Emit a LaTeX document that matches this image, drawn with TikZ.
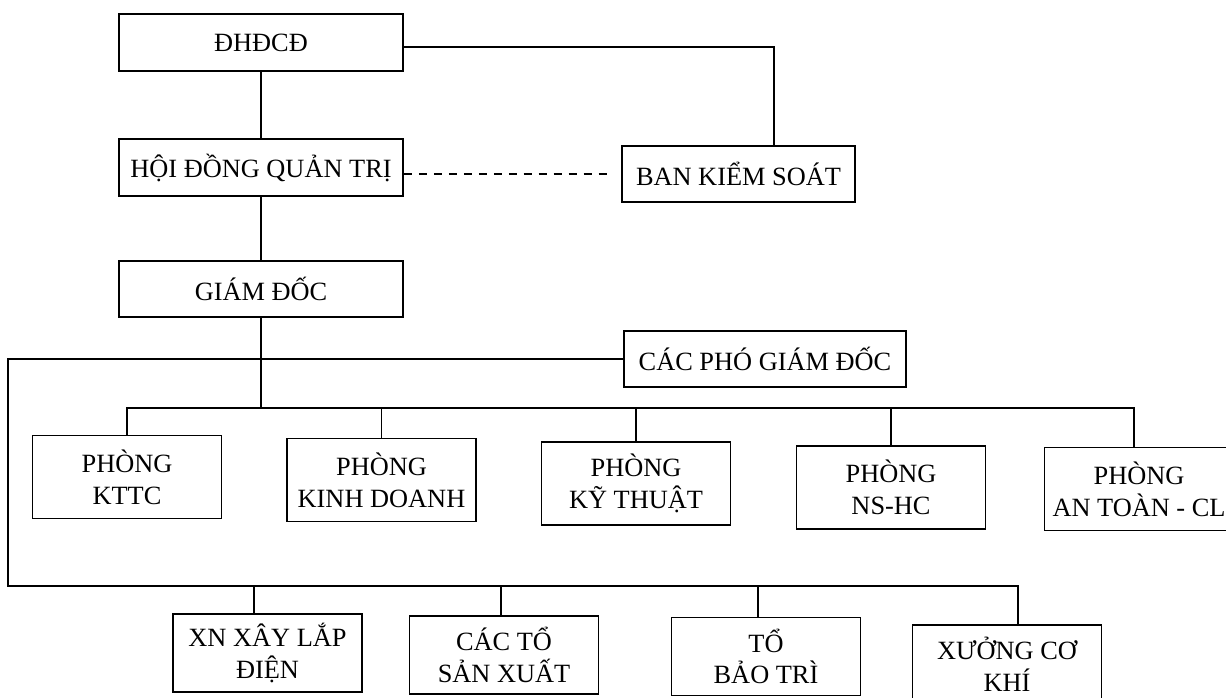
\documentclass[tikz,border=0pt]{standalone}
\usepackage{fontspec}
\setmainfont{Liberation Serif}
\usetikzlibrary{positioning, calc}
\tikzset{
  base/.style={draw, align=center, inner sep=0pt, line width=0.9pt,
               font=\fontsize{15}{18}\selectfont},
  top/.style={base, minimum width=5.68cm, minimum height=1.13cm},
  side/.style={base, minimum width=4.66cm, minimum height=1.12cm},
  dept/.style={base, minimum width=3.78cm, minimum height=1.66cm},
  unit/.style={base, minimum width=3.78cm, minimum height=1.56cm},
  link/.style={line width=0.9pt},
}

\begin{document}
\begin{tikzpicture}[x=0.02cm, y=-0.02cm]

\path[use as bounding box] (0,0) rectangle (1226,697);
\clip (0,0) rectangle (1226,697);

%% ====================  BOARD  ====================

\node[top] (dhdcd) at (261,42.5) {ĐHĐCĐ};
\node[top] (hdqt) at (261,167.5) {HỘI ĐỒNG QUẢN TRỊ};
\node[side] (bks) at (738.5,174) {BAN KIỂM SOÁT};
\node[top] (gd) at (261,289) {GIÁM ĐỐC};
\node[top, minimum width=5.64cm, minimum height=1.12cm] (cpgd) at (765,359) {CÁC PHÓ GIÁM ĐỐC};

%% ====================  DEPARTMENTS  ====================

\node[dept] (kttc) at (127,477) {PHÒNG\\KTTC};
\node[dept] (kd) at (381.5,480) {PHÒNG\\KINH DOANH};
\node[dept] (kt) at (636,483.5) {PHÒNG\\KỸ THUẬT};
\node[dept] (nshc) at (891,487.5) {PHÒNG\\NS-HC};
\node[dept] (atcl) at (1139,489) {PHÒNG\\AN TOÀN - CL};

%% ====================  UNITS  ====================

\node[unit] (xn) at (267.5,653) {XN XÂY LẮP\\ĐIỆN};
\node[unit] (cacto) at (504,655) {CÁC TỔ\\SẢN XUẤT};
\node[unit] (baotri) at (766,656.5) {TỔ\\BẢO TRÌ};
\node[unit] (xuong) at (1007,664) {XƯỞNG CƠ\\KHÍ};

\coordinate (busP) at (0,408);
\coordinate (busU) at (8,586);

%% ====================  LINKS  ====================

%% Board
\draw[link] (dhdcd) -- (hdqt);
\draw[link] (hdqt) -- (gd);
\draw[link] ([yshift=-0.09cm]dhdcd.east) -| ([xshift=0.71cm]bks.north);
\draw[link, dash pattern=on 0.16cm off 0.14cm, shorten >=0.2cm] (hdqt.east |- bks.west) -- (bks.west);

%% Departments
\draw[link] (gd.south) -- (gd.south |- busP);
\draw[link] (kttc.north) -- (kttc.north |- busP) -- ([xshift=-0.1cm]atcl.north |- busP) -- ([xshift=-0.1cm]atcl.north);
\foreach \n in {kd, kt, nshc}
  \draw[link] (\n.north) -- (\n.north |- busP);

%% Units
\draw[link] (cpgd.west) -| (busU) -- ([xshift=0.22cm]xuong.north |- busU) -- ([xshift=0.22cm]xuong.north);
\draw[link] ([xshift=-0.27cm]xn.north) -- ([xshift=-0.27cm]xn.north |- busU);
\draw[link] ([xshift=-0.06cm]cacto.north) -- ([xshift=-0.06cm]cacto.north |- busU);
\draw[link] ([xshift=-0.16cm]baotri.north) -- ([xshift=-0.16cm]baotri.north |- busU);

\end{tikzpicture}
\end{document}
